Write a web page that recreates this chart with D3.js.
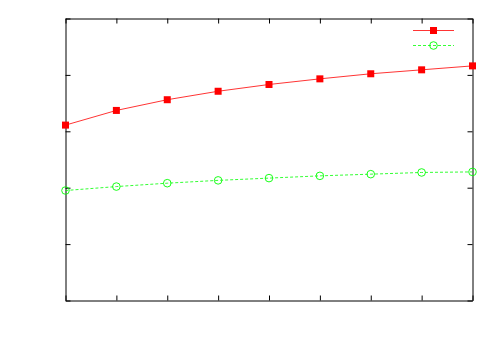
<!DOCTYPE html>
<html>
<head>
<meta charset="utf-8">
<script src="https://cdn.jsdelivr.net/npm/d3@7"></script>
<style>
  body { margin: 0; background: #fff; }
  svg { display: block; }
</style>
</head>
<body>
<script>
// data
var xVals = [0, 1, 2, 3, 4, 5, 6, 7, 8];
var redVals = [3.11, 3.37, 3.56, 3.71, 3.83, 3.93, 4.02, 4.09, 4.16];
var greenVals = [1.95, 2.02, 2.08, 2.13, 2.17, 2.21, 2.24, 2.27, 2.28];
var xTicks = [0, 1, 2, 3, 4, 5, 6, 7, 8];
var yTicks = [0, 1, 2, 3, 4, 5];

var w = 500, h = 350;
var plotLeft = 65.5, plotRight = 472.5, plotTop = 18.5, plotBottom = 300.5;

var svg = d3.select("body").append("svg").attr("width", w).attr("height", h);

var x = d3.scaleLinear().domain([0, 8]).range([plotLeft, plotRight]);
var y = d3.scaleLinear().domain([0, 5]).range([plotBottom, plotTop]);

// axes, ticks pointing inward, no labels
function styleAxis(g) {
  g.selectAll("path").attr("stroke", "#000").attr("stroke-width", 1);
  g.selectAll("line").attr("stroke", "#000").attr("stroke-width", 1);
  g.selectAll("text").remove();
}
svg.append("g").attr("transform", "translate(0," + plotBottom + ")")
  .call(d3.axisBottom(x).tickValues(xTicks).tickSize(-5).tickSizeOuter(0).tickFormat(""))
  .call(styleAxis);
svg.append("g").attr("transform", "translate(0," + plotTop + ")")
  .call(d3.axisTop(x).tickValues(xTicks).tickSize(-5).tickSizeOuter(0).tickFormat(""))
  .call(styleAxis);
svg.append("g").attr("transform", "translate(" + plotLeft + ",0)")
  .call(d3.axisLeft(y).tickValues(yTicks).tickSize(-5).tickSizeOuter(0).tickFormat(""))
  .call(styleAxis);
svg.append("g").attr("transform", "translate(" + plotRight + ",0)")
  .call(d3.axisRight(y).tickValues(yTicks).tickSize(-5).tickSizeOuter(0).tickFormat(""))
  .call(styleAxis);

var line = d3.line().x(function(d) { return x(d[0]); }).y(function(d) { return y(d[1]); });
var redData = xVals.map(function(v, i) { return [v, redVals[i]]; });
var greenData = xVals.map(function(v, i) { return [v, greenVals[i]]; });

svg.append("path").datum(redData).attr("d", line)
  .attr("fill", "none").attr("stroke", "#ff0000").attr("stroke-width", 0.8);
svg.append("path").datum(greenData).attr("d", line)
  .attr("fill", "none").attr("stroke", "#00ff00").attr("stroke-width", 0.8)
  .attr("stroke-dasharray", "3,2");

svg.selectAll("rect.red").data(redData).enter().append("rect")
  .attr("class", "red")
  .attr("x", function(d) { return x(d[0]) - 3.5; })
  .attr("y", function(d) { return y(d[1]) - 3.5; })
  .attr("width", 7).attr("height", 7)
  .attr("fill", "#ff0000");

svg.selectAll("circle.green").data(greenData).enter().append("circle")
  .attr("class", "green")
  .attr("cx", function(d) { return x(d[0]); })
  .attr("cy", function(d) { return y(d[1]); })
  .attr("r", 3.8)
  .attr("fill", "none").attr("stroke", "#00ff00").attr("stroke-width", 0.9);

// legend (no labels in the original)
var legend = svg.append("g");
legend.append("line").attr("x1", 413).attr("x2", 454).attr("y1", 30.5).attr("y2", 30.5)
  .attr("stroke", "#ff0000").attr("stroke-width", 0.8);
legend.append("rect").attr("x", 430).attr("y", 27).attr("width", 7).attr("height", 7)
  .attr("fill", "#ff0000");
legend.append("line").attr("x1", 413).attr("x2", 454).attr("y1", 45.5).attr("y2", 45.5)
  .attr("stroke", "#00ff00").attr("stroke-width", 0.8).attr("stroke-dasharray", "3,2");
legend.append("circle").attr("cx", 433.5).attr("cy", 45.5).attr("r", 3.8)
  .attr("fill", "none").attr("stroke", "#00ff00").attr("stroke-width", 0.9);
</script>
</body>
</html>
